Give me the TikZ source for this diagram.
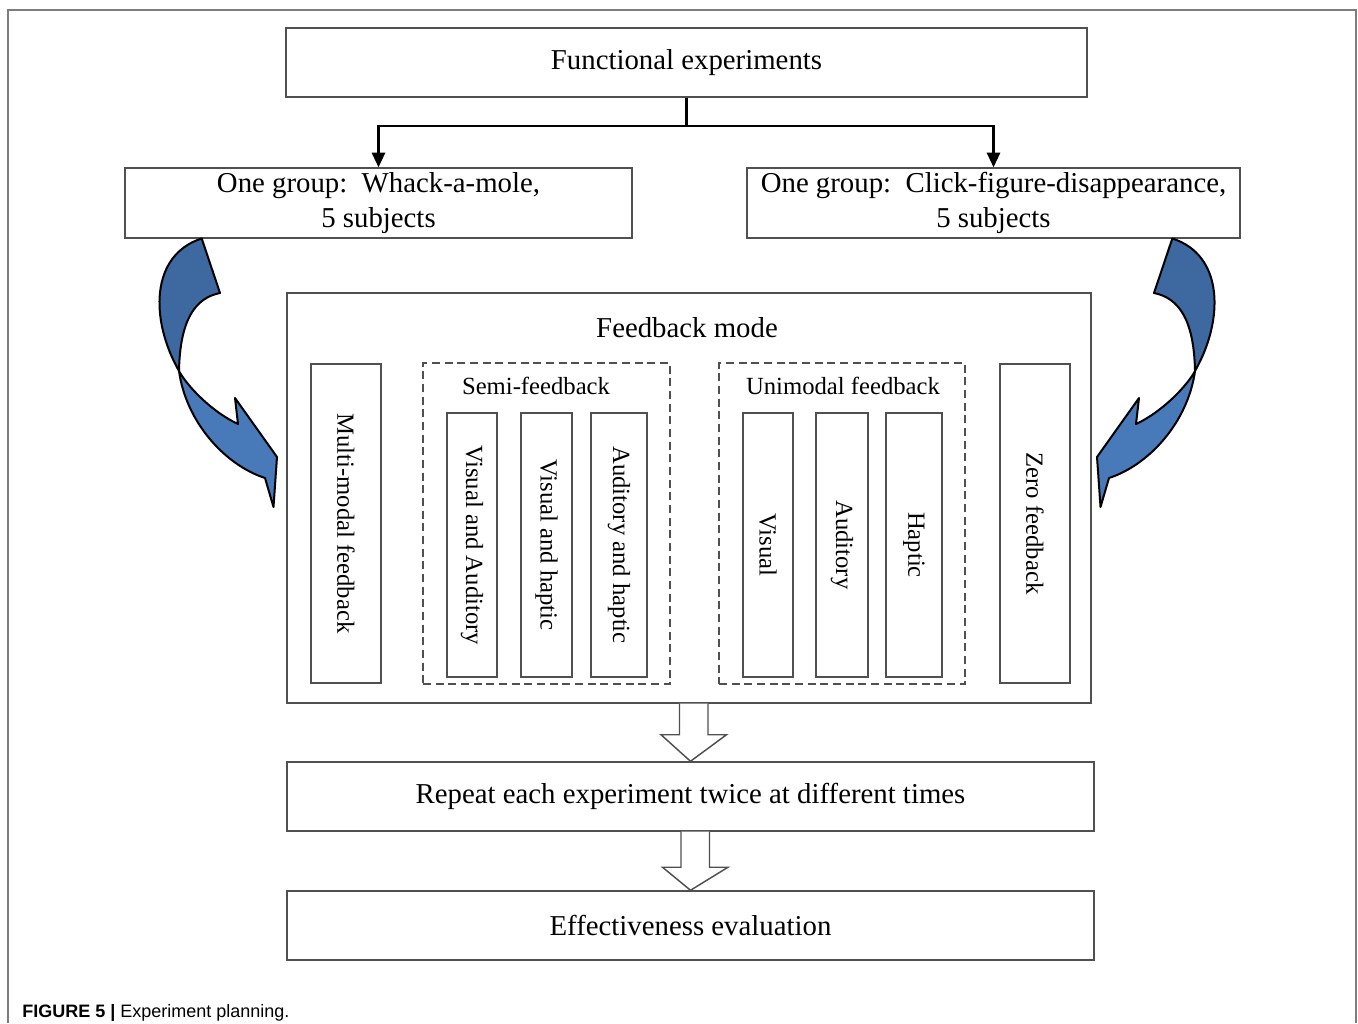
\documentclass[tikz,border=0pt]{standalone}
\usepackage{fontspec}
\setmainfont{Liberation Serif}
\setsansfont{Liberation Sans}
\usetikzlibrary{arrows.meta,calc}
\definecolor{boxgray}{RGB}{80,80,80}
\definecolor{framegray}{RGB}{125,125,125}
\definecolor{blueA}{RGB}{62,104,160}
\definecolor{blueB}{RGB}{72,122,186}
\newcommand{\twistarrow}{%
  \filldraw[blueshape, fill=blueA] (201.7,238.5) -- (220,293)
     .. controls (195,298) and (180,320) .. (179,371)
     .. controls (150,320) and (150,255) .. cycle;
  \filldraw[blueshape, fill=blueB] (179,371)
     .. controls (187,386) and (212,412) .. (238,424)
     -- (235,398) -- (277,457) -- (273.5,507) -- (265,478)
     .. controls (225,465) and (186,422) .. cycle;
}
\begin{document}
\begin{tikzpicture}[x=0.75pt,y=-0.75pt,
  bx/.style 2 args={minimum width={#1*0.75pt}, minimum height={#2*0.75pt}},
  box/.style={draw=boxgray, line width=1.1pt, inner sep=0pt, align=center,
              font=\fontsize{21.6}{26.25}\selectfont},
  dbox/.style={draw=boxgray, line width=1.1pt, inner sep=0pt,
               dash pattern=on 6pt off 3.5pt},
  vbox/.style={draw=boxgray, line width=1.1pt, inner sep=0pt},
  vtext/.style={rotate=-90, inner sep=0pt, font=\fontsize{18.5}{22}\selectfont},
  ttext/.style={inner sep=0pt, font=\fontsize{21.6}{26.25}\selectfont},
  stext/.style={inner sep=0pt, font=\fontsize{18.5}{22}\selectfont},
  conn/.style={draw=black, line width=1.6pt},
  tip/.style={-{Triangle[length=11pt,width=10pt]}},
  hollow/.style={draw=boxgray, line width=1.1pt, fill=white, line join=miter},
  blueshape/.style={draw=black, line width=1.5pt, line join=round}]
\useasboundingbox (0,0) rectangle (1358,1023);
% outer frame
\draw[framegray, line width=1.5pt] (8,1023) -- (8,10) -- (1356,10) -- (1356,1023);

% top box
\node[box, bx={801}{69}] (fe) at (686.5,62.5) {Functional experiments};
% groups
\node[box, bx={507}{70}] (g1) at (378.5,203) {One group:\ \ Whack-a-mole,\\5 subjects};
\node[box, bx={493}{70}] (g2) at (993.5,203) {One group:\ \ Click-figure-disappearance,\\5 subjects};
\coordinate (j) at ($(fe.south)+(0,28)$);
\draw[conn] (fe.south) -- (j);
\draw[conn, tip] (j) -| (g1.north);
\draw[conn, tip] (j) -| (g2.north);

% feedback mode
\node[vbox, bx={804}{410}] (fb) at (689,498) {};
\node[ttext] (fbt) at (687,328) {Feedback mode};

\node[vbox, bx={70}{319}] (mm) at (346,523.5) {};
\node[vtext] (mmt) at (mm) {Multi-modal feedback};

\node[dbox, bx={247}{321}] (semi) at (546.5,523.5) {};
\node[stext] (semit) at (536,386) {Semi-feedback};
\node[vbox, bx={50}{264}] (s1) at (472,545) {};
\node[vtext] (s1t) at (s1) {Visual and Auditory};
\node[vbox, bx={51}{264}] (s2) at (546.5,545) {};
\node[vtext] (s2t) at (s2) {Visual and haptic};
\node[vbox, bx={56}{264}] (s3) at (619,545) {};
\node[vtext] (s3t) at (s3) {Auditory and haptic};

\node[dbox, bx={246}{321}] (uni) at (842,523.5) {};
\node[stext] (unit) at (843,386) {Unimodal feedback};
\node[vbox, bx={50}{264}] (u1) at (768,545) {};
\node[vtext] (u1t) at (u1) {Visual};
\node[vbox, bx={52}{264}] (u2) at (842,545) {};
\node[vtext] (u2t) at (u2) {Auditory};
\node[vbox, bx={56}{264}] (u3) at (914,545) {};
\node[vtext] (u3t) at (u3) {Haptic};

\node[vbox, bx={70}{319}] (zf) at (1035,523.5) {};
\node[vtext] (zft) at (zf) {Zero feedback};

% lower boxes
\node[box, bx={807}{69}] (rep) at (690.5,796.5) {Repeat each experiment twice at different times};
\node[box, bx={807}{69}] (eff) at (690.5,925.5) {Effectiveness evaluation};

% hollow arrows
\draw[hollow] ($(fb.south)+(-9.5,0)$) -- ++(0,31) -- ++(-18.5,0) -- ($(rep.north)+(0,0)$)
   -- ($(fb.south)+(37.5,31)$) -- ++(-18.5,0) -- ++(0,-31);
\draw[hollow] ($(rep.south)+(-9.5,0)$) -- ++(0,35.5) -- ++(-18.5,0) -- ($(eff.north)+(0,0)$)
   -- ($(rep.south)+(37.5,35.5)$) -- ++(-18.5,0) -- ++(0,-35.5);

% blue twisted arrows
\twistarrow
\begin{scope}[shift={(1374,0)}, xscale=-1]
\twistarrow
\end{scope}

% caption
\node[anchor=base west, inner sep=0pt, font=\sffamily\fontsize{13.5}{16}\selectfont] (cap) at (22,1017)
  {\textbf{FIGURE 5 |} Experiment planning.};
\end{tikzpicture}
\end{document}
